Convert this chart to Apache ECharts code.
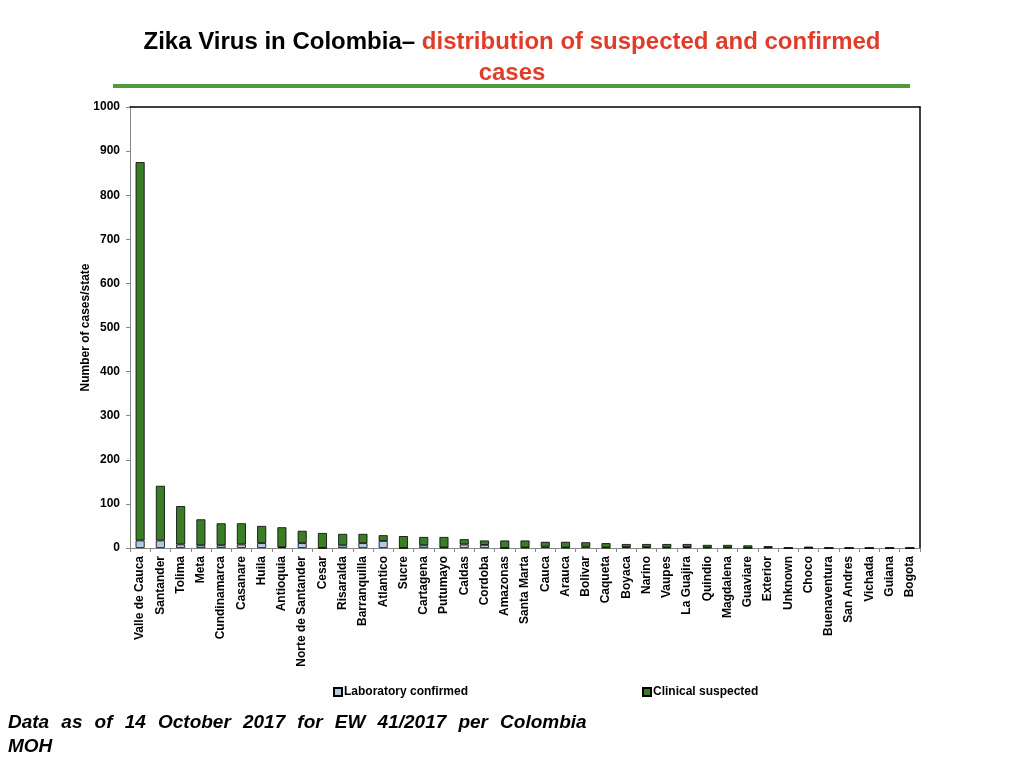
<!DOCTYPE html>
<html>
<head>
<meta charset="utf-8">
<script src="https://cdn.jsdelivr.net/npm/echarts@6/dist/echarts.min.js"></script>
<style>
html,body{margin:0;padding:0;background:#fff;}
#chart{width:1024px;height:768px;}
</style>
</head>
<body>
<div id="chart"></div>
<script>
var categories = ['Valle de Cauca','Santander','Tolima','Meta','Cundinamarca','Casanare','Huila','Antioquia','Norte de Santander','Cesar','Risaralda','Barranquilla','Atlantico','Sucre','Cartagena','Putumayo','Caldas','Cordoba','Amazonas','Santa Marta','Cauca','Arauca','Bolivar','Caqueta','Boyaca','Narino','Vaupes','La Guajira','Quindio','Magdalena','Guaviare','Exterior','Unknown','Choco','Buenaventura','San Andres','Vichada','Guiana','Bogota'];
var labConfirmed = [17,17,8,6,6,8,11,2,11,0,6,11,16,0,6,1,8,7,0,1,3,1,3,1,2,2,1,2,1,1,0,1,0,0,0,0,0,0,0];
var clinicalSuspected = [858,124,87,59,50,48,39,45,28,34,26,21,13,27,19,24,12,10,17,16,11,13,10,10,7,7,8,7,6,6,6,3,0,3,0,0,0,0,0];
var yTicks = {min:0, max:1000, interval:100};

var chart = echarts.init(document.getElementById('chart'));
var font = 'Liberation Sans, Arial, sans-serif';
var gap = '  \u200A';
var footLine1 = ['Data','as','of','14','October','2017','for','EW','41/2017','per','Colombia'].join(gap);
chart.setOption({
  animation:false,
  backgroundColor:'#fff',
  textStyle:{fontFamily:font},
  title:{
    left:512, top:27, padding:0, textAlign:'center',
    text:'{a|Zika Virus in Colombia\u2013 }{b|distribution of suspected and confirmed}\n{b|cases}',
    textStyle:{
      rich:{
        a:{fontSize:24,fontWeight:'bold',color:'#000',fontFamily:font,lineHeight:31},
        b:{fontSize:24,fontWeight:'bold',color:'#e03c2a',fontFamily:font,lineHeight:31}
      }
    }
  },
  graphic:[
    {type:'rect',shape:{x:113,y:84,width:797,height:4},style:{fill:'#4f9a3a'}},
    {type:'text',left:8,top:711,style:{text:footLine1+'\nMOH',font:'italic bold 19px Liberation Sans, Arial, sans-serif',fill:'#000',lineHeight:24}}
  ],
  legend:[
    {data:['Laboratory confirmed'],left:328,top:681,itemWidth:8,itemHeight:8,itemGap:4,textStyle:{fontSize:12,fontWeight:'bold',color:'#000',padding:[0,0,0,-3]},icon:'rect'},
    {data:['Clinical suspected'],left:637,top:681,itemWidth:8,itemHeight:8,itemGap:4,textStyle:{fontSize:12,fontWeight:'bold',color:'#000',padding:[0,0,0,-3]},icon:'rect'}
  ],
  grid:{left:130,right:104,top:107,bottom:220,containLabel:false},
  xAxis:[
    {type:'category',data:categories,
     axisLine:{lineStyle:{color:'#888',width:1}},
     axisTick:{show:true,length:4,lineStyle:{color:'#888'}},
     axisLabel:{rotate:90,interval:0,fontSize:12,fontWeight:'bold',color:'#000',margin:8}},
    {type:'category',data:categories,position:'top',
     axisLine:{onZero:false,lineStyle:{color:'#000',width:1.5}},axisTick:{show:false},axisLabel:{show:false}}
  ],
  yAxis:[
    {type:'value',min:yTicks.min,max:yTicks.max,interval:yTicks.interval,
     name:'Number of cases/state',nameLocation:'middle',nameGap:38,nameMoveOverlap:false,
     nameTextStyle:{fontSize:12,fontWeight:'bold',color:'#000'},
     axisLine:{show:true,lineStyle:{color:'#888'}},
     axisTick:{show:true,length:4,lineStyle:{color:'#888'}},
     axisLabel:{fontSize:12,fontWeight:'bold',color:'#000',margin:10,formatter:function(v){return String(v);}},
     splitLine:{show:false}},
    {type:'value',min:yTicks.min,max:yTicks.max,interval:yTicks.interval,position:'right',
     axisLine:{show:true,onZero:false,lineStyle:{color:'#000',width:1.5}},axisTick:{show:false},axisLabel:{show:false},splitLine:{show:false}}
  ],
  series:[
    {name:'Laboratory confirmed',type:'bar',stack:'total',data:labConfirmed,barWidth:9,
     itemStyle:{color:'#b3c9e3',borderColor:'#000',borderWidth:0.8}},
    {name:'Clinical suspected',type:'bar',stack:'total',data:clinicalSuspected,barWidth:9,
     itemStyle:{color:'#3b7d27',borderColor:'#000',borderWidth:0.8}}
  ]
});
</script>
</body>
</html>
